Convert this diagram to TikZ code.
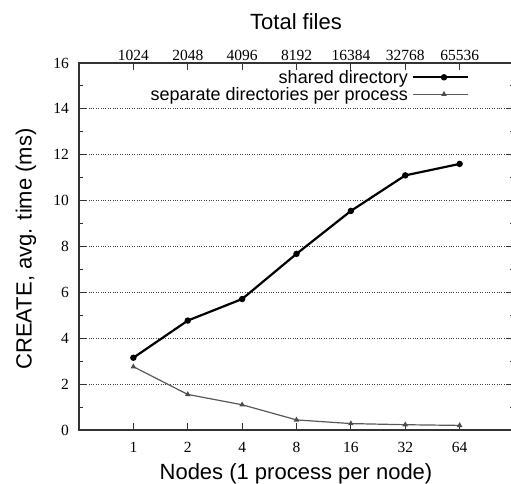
\documentclass[tikz,border=0pt]{standalone}
\usepackage{fontspec}
\setmainfont{Liberation Serif}
\newfontfamily\labelfont{Liberation Sans}
\usetikzlibrary{shapes.geometric}
\begin{document}
\begin{tikzpicture}[x=1pt,y=1pt,
  ticklabel/.style={font=\fontsize{15.5}{18}\selectfont, inner sep=0pt},
  axislabel/.style={font=\labelfont\fontsize{22}{26}\selectfont, inner sep=0pt},
  legendlabel/.style={font=\labelfont\fontsize{18}{21}\selectfont, inner sep=0pt, anchor=base east},
  frame/.style={line width=1.6pt, draw=black!80},
  tickmark/.style={line width=1pt, draw=black!80},
  gridline/.style={line width=0.8pt, draw=black!75, dash pattern=on 0.8pt off 1.6pt},
  sharedline/.style={line width=2.2pt, draw=black, line join=round},
  sepline/.style={line width=1.2pt, draw=black!65, line join=round},
  sharedmark/.style={circle, fill=black, inner sep=0pt, minimum size=6.5pt},
  sepmark/.style={regular polygon, regular polygon sides=3, fill=black!70, inner sep=0pt, minimum size=6.5pt},
]
\useasboundingbox (0,0) rectangle (511,484);
\fill[white] (0,0) rectangle (511,484);
\clip (0,0) rectangle (511,484);

% plot area: categories 0..8 horizontally, 0..16 ms vertically
\begin{scope}[shift={(79,54)}, x=54.375pt, y=22.9375pt]
  % dotted grid
  \foreach \v in {2,4,...,14}
    \draw[gridline] (0,\v) -- (8,\v);

  % left/right ticks and labels
  \foreach \v in {0,2,...,16} {
    \draw[tickmark] (0,\v) -- ++(7pt,0);
    \draw[tickmark] (8,\v) -- ++(-7pt,0);
    \node[ticklabel, anchor=east] (yl\v) at ([xshift=-10pt]0,\v) {\v};
  }
  \foreach \v in {1,3,...,15} {
    \draw[tickmark] (0,\v) -- ++(4pt,0);
    \draw[tickmark] (8,\v) -- ++(-4pt,0);
  }

  % bottom and top ticks with labels
  \foreach \i/\n/\t in {1/1/1024,2/2/2048,3/4/4096,4/8/8192,5/16/16384,6/32/32768,7/64/65536} {
    \draw[tickmark] (\i,0) -- ++(0,7pt);
    \draw[tickmark] (\i,16) -- ++(0,-7pt);
    \node[ticklabel, anchor=north] (xb\i) at ([yshift=-12pt]\i,0) {\n};
    \node[ticklabel, anchor=base] (xt\i) at ([yshift=2.5pt]\i,16) {\t};
  }

  % frame
  \draw[frame] (0,0) rectangle (8,16);

  % shared directory
  \foreach \i/\v in {1/3.15,2/4.77,3/5.71,4/7.68,5/9.55,6/11.1,7/11.6}
    \coordinate (s\i) at (\i,\v);
  \draw[sharedline] (s1) -- (s2) -- (s3) -- (s4) -- (s5) -- (s6) -- (s7);
  \foreach \i in {1,...,7}
    \node[sharedmark] (sm\i) at (s\i) {};

  % separate directories per process
  \foreach \i/\v in {1/2.76,2/1.55,3/1.1,4/0.44,5/0.28,6/0.23,7/0.2}
    \coordinate (p\i) at (\i,\v);
  \draw[sepline] (p1) -- (p2) -- (p3) -- (p4) -- (p5) -- (p6) -- (p7);
  \foreach \i in {1,...,7}
    \node[sepmark] (pm\i) at (p\i) {};
\end{scope}

% legend
\node[legendlabel] (lg1) at (408,400) {shared directory};
\node[legendlabel] (lg2) at (408,383) {separate directories per process};
\coordinate (la1) at (413,406.7);
\coordinate (lb1) at (468,406.7);
\coordinate (la2) at (413,389.7);
\coordinate (lb2) at (468,389.7);
\draw[sharedline] (la1) -- (lb1);
\draw[sepline] (la2) -- (lb2);
\node[sharedmark] (lm1) at (444,406.7) {};
\node[sepmark] (lm2) at (444,389.7) {};

% axis titles
\node[axislabel, anchor=base] (xtitle) at (296,4.7) {Nodes (1 process per node)};
\node[axislabel, anchor=base] (x2title) at (296,454.7) {Total files};
\node[axislabel, anchor=base, rotate=90] (ytitle) at (31.5,235) {CREATE, avg. time (ms)};
\end{tikzpicture}
\end{document}
